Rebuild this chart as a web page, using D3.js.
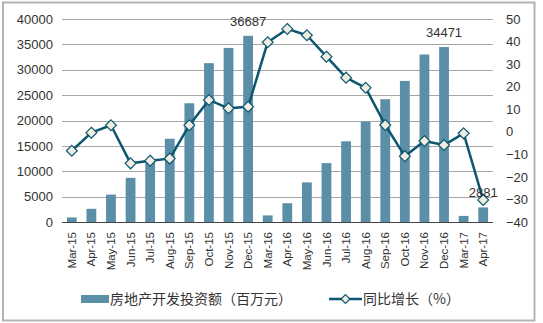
<!DOCTYPE html>
<html>
<head>
<meta charset="utf-8">
<script src="https://cdn.jsdelivr.net/npm/d3@7/dist/d3.min.js"></script>
<style>
  html, body { margin: 0; padding: 0; background: #fff; }
  svg { display: block; }
  text { font-family: "Liberation Sans", Arial, sans-serif; fill: #333; }
  .cjk { font-family: "Noto Sans CJK SC", sans-serif; }
</style>
</head>
<body>
<svg id="chart" width="543" height="323"></svg>
<script>
// Monthly real-estate development investment (millions of yuan) and YoY growth (%)
const months = ["Mar-15","Apr-15","May-15","Jun-15","Jul-15","Aug-15","Sep-15","Oct-15","Nov-15","Dec-15",
                "Mar-16","Apr-16","May-16","Jun-16","Jul-16","Aug-16","Sep-16","Oct-16","Nov-16","Dec-16",
                "Mar-17","Apr-17"];
const investment = [900, 2600, 5400, 8700, 12000, 16400, 23400, 31300, 34300, 36687,
                    1300, 3700, 7800, 11600, 15900, 19800, 24200, 27800, 33000, 34471,
                    1200, 2881];
const growth = [-8.4, -0.4, 2.9, -14.0, -12.8, -11.9, 2.9, 14.1, 10.4, 11.1,
                39.7, 45.6, 42.8, 33.3, 24.0, 19.5, 3.0, -10.8, -4.1, -5.9,
                -0.7, -30.2];
const leftTicks = [0, 5000, 10000, 15000, 20000, 25000, 30000, 35000, 40000];
const rightTicks = [-40, -30, -20, -10, 0, 10, 20, 30, 40, 50];
const labelled = ["Dec-15", "Dec-16", "Apr-17"];
const barName = "房地产开发投资额（百万元）";
const lineName = "同比增长（%）";

const barColor = "#5b8fa8";
const lineColor = "#0d5671";
const markerFill = "#eeeddf";

const svg = d3.select("#chart");
const plot = { left: 62, right: 493, top: 19, bottom: 222 };

// outer frame
svg.append("rect")
  .attr("x", 3).attr("y", 2.5).attr("width", 531.5).attr("height", 318)
  .attr("fill", "none").attr("stroke", "#b4b4b4").attr("stroke-width", 2);

const x = d3.scaleBand().domain(months).range([plot.left, plot.right]).paddingInner(0.5).paddingOuter(0.25);
const yL = d3.scaleLinear().domain([0, 40000]).range([plot.bottom, plot.top]);
const yR = d3.scaleLinear().domain([-40, 50]).range([plot.bottom, plot.top]);

// gridlines
svg.append("g")
  .selectAll("line").data(leftTicks.filter(d => d > 0)).join("line")
  .attr("x1", plot.left).attr("x2", plot.right)
  .attr("y1", d => Math.round(yL(d)) + 0.5).attr("y2", d => Math.round(yL(d)) + 0.5)
  .attr("stroke", "#a6a6a6").attr("stroke-width", 1);

// left axis
const axL = svg.append("g").attr("transform", `translate(${plot.left},0)`)
  .call(d3.axisLeft(yL).tickValues(leftTicks).tickSize(0).tickPadding(9).tickFormat(d3.format("d")));
axL.select(".domain").remove();
axL.selectAll("text").attr("font-size", 13).style("fill", "#333");

// right axis
const axR = svg.append("g").attr("transform", `translate(${plot.right},0)`)
  .call(d3.axisRight(yR).tickValues(rightTicks).tickSize(0).tickPadding(13));
axR.select(".domain").remove();
axR.selectAll("text").attr("font-size", 13).style("fill", "#333");

// bars
svg.append("g").selectAll("rect").data(months).join("rect")
  .attr("x", d => x(d))
  .attr("width", x.bandwidth())
  .attr("y", (d, i) => yL(investment[i]))
  .attr("height", (d, i) => yL(0) - yL(investment[i]))
  .attr("fill", barColor);

// baseline
svg.append("line")
  .attr("x1", plot.left).attr("x2", plot.right)
  .attr("y1", Math.round(yL(0)) + 0.5).attr("y2", Math.round(yL(0)) + 0.5)
  .attr("stroke", "#444").attr("stroke-width", 1);

// x axis labels
const axB = svg.append("g").attr("transform", `translate(0,${plot.bottom})`)
  .call(d3.axisBottom(x).tickSize(0).tickPadding(0));
axB.select(".domain").remove();
axB.selectAll("text")
  .attr("font-size", 11.5)
  .attr("text-anchor", "end")
  .attr("dy", "0.35em")
  .attr("transform", "translate(0,10) rotate(-90)")
  .attr("x", 0).attr("y", 0)
  .style("fill", "#333");

// growth line
const cx = d => x(d) + x.bandwidth() / 2;
svg.append("path")
  .datum(months)
  .attr("fill", "none").attr("stroke", lineColor).attr("stroke-width", 2.5)
  .attr("stroke-linejoin", "round")
  .attr("d", d3.line().x(cx).y((d, i) => yR(growth[i])));

const diamond = d3.symbol().type(d3.symbolDiamond2).size(75);
svg.append("g").selectAll("path").data(months).join("path")
  .attr("transform", (d, i) => `translate(${cx(d)},${yR(growth[i])})`)
  .attr("d", diamond)
  .attr("fill", markerFill).attr("stroke", lineColor).attr("stroke-width", 1.2);

// value labels
svg.append("g").selectAll("text").data(labelled).join("text")
  .attr("x", d => cx(d))
  .attr("y", d => yL(investment[months.indexOf(d)]) - 10)
  .attr("text-anchor", "middle")
  .attr("font-size", 13)
  .text(d => investment[months.indexOf(d)]);

// legend
const lg = svg.append("g");
lg.append("rect").attr("x", 81).attr("y", 295).attr("width", 28).attr("height", 8).attr("fill", barColor);
lg.append("text").attr("class", "cjk").attr("x", 110).attr("y", 299).attr("dy", "0.35em")
  .attr("font-size", 14).text(barName);
lg.append("line").attr("x1", 329).attr("x2", 362).attr("y1", 299).attr("y2", 299)
  .attr("stroke", lineColor).attr("stroke-width", 2.5);
lg.append("path").attr("transform", "translate(345.5,299)").attr("d", d3.symbol().type(d3.symbolDiamond2).size(50))
  .attr("fill", markerFill).attr("stroke", lineColor).attr("stroke-width", 1.2);
lg.append("text").attr("class", "cjk").attr("x", 363).attr("y", 299).attr("dy", "0.35em")
  .attr("font-size", 14).text(lineName);
</script>
</body>
</html>
